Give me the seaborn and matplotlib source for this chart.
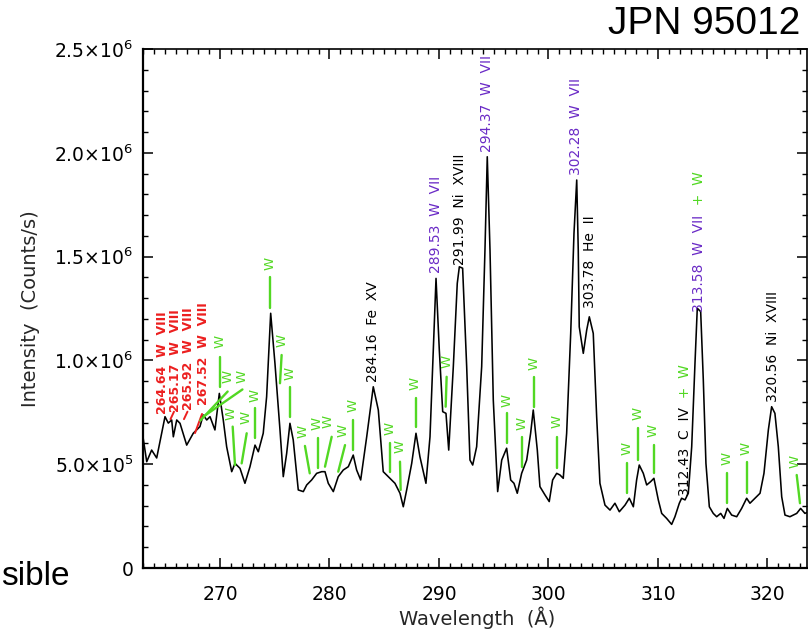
import matplotlib
matplotlib.use("Agg")
import matplotlib.pyplot as plt
import numpy as np
import pandas as pd
import seaborn as sns
from matplotlib.ticker import MultipleLocator, FixedLocator, FixedFormatter

# ---------------- data ----------------
wavelength = [262.97, 263.31, 263.76, 264.22, 264.98, 265.28, 265.59, 265.74, 266.05, 266.35,
              266.96, 267.56, 268.17, 268.47, 268.79, 269.09, 269.54, 269.94, 270.30, 270.61,
              271.07, 271.37, 271.83, 272.28, 272.74, 273.20, 273.50, 273.95, 274.26, 274.63,
              275.02, 275.48, 275.78, 276.09, 276.39, 276.69, 277.15, 277.61, 277.92, 278.37,
              278.83, 279.29, 279.59, 279.89, 280.35, 280.80, 281.26, 281.72, 282.17, 282.48,
              282.85, 283.40, 284.00, 284.46, 284.91, 285.37, 285.98, 286.44, 286.74, 287.05,
              287.51, 287.90, 288.26, 288.81, 289.18, 289.48, 289.73, 290.03, 290.34, 290.64,
              290.89, 291.31, 291.67, 291.86, 292.16, 292.53, 292.83, 293.08, 293.44, 293.90,
              294.20, 294.41, 294.66, 294.96, 295.36, 295.73, 296.18, 296.55, 296.85, 297.15,
              297.55, 298.01, 298.37, 298.61, 298.98, 299.22, 299.68, 300.07, 300.38, 300.75,
              301.05, 301.35, 301.66, 302.03, 302.33, 302.58, 302.72, 302.81, 303.18, 303.49,
              303.73, 304.09, 304.40, 304.70, 305.16, 305.62, 306.07, 306.47, 306.99, 307.38,
              307.75, 308.05, 308.29, 308.66, 308.97, 309.33, 309.63, 310.03, 310.34, 310.79,
              311.25, 311.55, 311.95, 312.16, 312.47, 312.77, 313.08, 313.38, 313.59, 313.90,
              314.14, 314.38, 314.69, 315.05, 315.36, 315.73, 316.03, 316.33, 316.73, 317.19,
              317.64, 318.10, 318.40, 318.86, 319.32, 319.68, 320.08, 320.38, 320.68, 320.99,
              321.30, 321.60, 322.05, 322.67, 323.03, 323.42, 323.70]
intensity_1e6 = [0.631, 0.512, 0.568, 0.530, 0.729, 0.698, 0.713, 0.632, 0.713, 0.697,
                 0.592, 0.649, 0.681, 0.737, 0.713, 0.729, 0.665, 0.841, 0.713, 0.584,
                 0.464, 0.504, 0.480, 0.408, 0.488, 0.592, 0.560, 0.649, 0.825, 1.227,
                 0.986, 0.665, 0.440, 0.552, 0.697, 0.617, 0.376, 0.368, 0.400, 0.424,
                 0.456, 0.464, 0.464, 0.408, 0.368, 0.440, 0.472, 0.488, 0.544, 0.472,
                 0.424, 0.632, 0.873, 0.761, 0.464, 0.440, 0.408, 0.360, 0.295, 0.376,
                 0.504, 0.649, 0.536, 0.408, 0.632, 1.050, 1.395, 1.050, 0.753, 0.745,
                 0.568, 0.970, 1.371, 1.451, 1.444, 0.970, 0.520, 0.496, 0.584, 0.970,
                 1.532, 1.981, 1.532, 0.809, 0.368, 0.520, 0.577, 0.424, 0.408, 0.360,
                 0.456, 0.520, 0.649, 0.761, 0.568, 0.392, 0.352, 0.320, 0.424, 0.456,
                 0.448, 0.432, 0.649, 1.130, 1.612, 1.869, 1.532, 1.162, 1.034, 1.146,
                 1.210, 1.130, 0.729, 0.408, 0.303, 0.279, 0.312, 0.271, 0.303, 0.336,
                 0.295, 0.424, 0.496, 0.456, 0.400, 0.416, 0.432, 0.328, 0.263, 0.239,
                 0.210, 0.247, 0.312, 0.336, 0.328, 0.360, 0.584, 0.986, 1.251, 1.235,
                 0.906, 0.504, 0.295, 0.263, 0.247, 0.263, 0.239, 0.287, 0.255, 0.247,
                 0.287, 0.336, 0.312, 0.336, 0.360, 0.456, 0.665, 0.777, 0.745, 0.584,
                 0.343, 0.255, 0.247, 0.263, 0.287, 0.263, 0.270]

xtick_values = [270, 280, 290, 300, 310, 320]
xtick_labels = ["270", "280", "290", "300", "310", "320"]
ytick_values = [0, 0.5e6, 1.0e6, 1.5e6, 2.0e6, 2.5e6]
ytick_labels = ["0", r"$5.0{\times}10^{5}$", r"$1.0{\times}10^{6}$", r"$1.5{\times}10^{6}$",
                r"$2.0{\times}10^{6}$", r"$2.5{\times}10^{6}$"]

# identified lines
id_text = ["284.16  Fe  XV", "291.99  Ni  XVIII", "303.78  He  II", "312.43  C  IV",
           "320.56  Ni  XVIII", "289.53  W  VII", "294.37  W  VII", "302.28  W  VII",
           "313.58  W  VII"]
id_kind = ["black", "black", "black", "black", "black", "purple", "purple", "purple", "purple"]
id_x = [283.95, 291.92, 303.79, 312.47, 320.53, 289.73, 294.38, 302.51, 313.77]
id_ybot = [0.897, 1.46, 1.251, 0.345, 0.801, 1.419, 2.004, 1.893, 1.235]
id_suffix = ["", "", "", "  +  W", "", "", "", "", "  +  W"]

red_text = ["264.64  W  VIII", "265.17  W  VIII", "265.92  W  VIII", "267.52  W  VIII"]
red_x = [264.75, 265.94, 267.17, 268.45]
red_ybot = [0.742, 0.750, 0.760, 0.785]
red_l_x1 = [265.80, 267.03, 268.36]
red_l_y1 = [0.753, 0.753, 0.742]
red_l_x2 = [265.48, 266.71, 267.72]
red_l_y2 = [0.717, 0.717, 0.650]

# green "W" markers: label position and leader line
w_tx = [270.00, 270.76, 271.98, 270.98, 272.37, 273.20, 274.57, 275.63, 276.39, 277.61,
        278.83, 279.89, 281.26, 282.17, 285.53, 286.44, 287.81, 290.70, 296.18, 297.55,
        298.68, 300.75, 307.14, 308.20, 309.57, 316.27, 318.04, 322.53]
w_ty = [1.090, 0.921, 0.921, 0.745, 0.723, 0.833, 1.469, 1.098, 0.938, 0.657,
        0.697, 0.705, 0.665, 0.785, 0.673, 0.584, 0.890, 0.994, 0.809, 0.697,
        0.986, 0.705, 0.577, 0.745, 0.665, 0.528, 0.577, 0.512]
w_x1 = [270.00, 270.70, 272.05, 271.16, 272.44, 273.20, 274.57, 275.63, 276.39, 277.76,
        278.98, 280.20, 281.42, 282.17, 285.53, 286.44, 287.90, 290.70, 296.18, 297.61,
        298.68, 300.75, 307.14, 308.20, 309.66, 316.33, 318.10, 322.67]
w_y1 = [1.018, 0.850, 0.860, 0.681, 0.649, 0.769, 1.402, 1.026, 0.873, 0.588,
        0.625, 0.632, 0.592, 0.713, 0.601, 0.512, 0.817, 0.921, 0.745, 0.632,
        0.921, 0.632, 0.504, 0.673, 0.592, 0.456, 0.512, 0.448]
w_x2 = [270.00, 268.20, 268.50, 271.37, 271.98, 273.20, 274.57, 275.48, 276.39, 278.20,
        278.98, 279.59, 280.80, 282.17, 285.53, 286.50, 287.90, 290.61, 296.18, 297.61,
        298.68, 300.75, 307.14, 308.20, 309.66, 316.33, 318.10, 322.97]
w_y2 = [0.873, 0.710, 0.730, 0.496, 0.504, 0.625, 1.252, 0.890, 0.729, 0.456,
        0.480, 0.488, 0.464, 0.568, 0.464, 0.376, 0.681, 0.777, 0.601, 0.488,
        0.777, 0.480, 0.360, 0.520, 0.456, 0.312, 0.360, 0.312]

# ---------------- style ----------------
GREEN = "#52d823"
PURPLE = "#6a2ac6"
RED = "#ec1f1f"
colors = {"black": "black", "purple": PURPLE}

sns.set_theme(style="ticks")
plt.rcParams["font.family"] = ["DejaVu Sans"]
plt.rcParams["mathtext.fontset"] = "dejavusans"

fig = plt.figure(figsize=(8.08, 6.31), dpi=100)
ax = fig.add_axes([143 / 808, 1 - 568 / 631, (807 - 143) / 808, (568 - 49) / 631])

df = pd.DataFrame({"Wavelength": wavelength,
                   "Intensity": np.array(intensity_1e6) * 1e6})
sns.lineplot(data=df, x="Wavelength", y="Intensity", ax=ax, color="black",
             linewidth=1.15, estimator=None, sort=False)

ax.set_xlim(262.97, 323.61)
ax.set_ylim(0, 2.5e6)

ax.xaxis.set_major_locator(FixedLocator(xtick_values))
ax.xaxis.set_major_formatter(FixedFormatter(xtick_labels))
ax.xaxis.set_minor_locator(MultipleLocator(1))
ax.yaxis.set_major_locator(FixedLocator(ytick_values))
ax.yaxis.set_major_formatter(FixedFormatter(ytick_labels))
ax.yaxis.set_minor_locator(MultipleLocator(1e5))

ax.tick_params(which="both", direction="in", top=True, right=True, colors="black",
               labelsize=13.5)
ax.tick_params(which="major", length=7, width=1.1)
ax.tick_params(which="minor", length=3.5, width=1.0)
ax.tick_params(axis="x", which="major", pad=12)
ax.tick_params(axis="y", which="major", pad=7)
for s in ax.spines.values():
    s.set_color("black")
ax.spines["left"].set_linewidth(1.6)
ax.spines["bottom"].set_linewidth(1.6)
ax.spines["top"].set_linewidth(1.2)
ax.spines["right"].set_linewidth(1.2)

ax.set_xlabel("Wavelength  (Å)", fontsize=14)
ax.set_ylabel("Intensity  (Counts/s)", fontsize=14)
ax.xaxis.set_label_coords(0.503, -0.074)
ax.yaxis.set_label_coords(-0.155, 0.5)

# identified lines
id_artists = []
for t, k, x, yb in zip(id_text, id_kind, id_x, id_ybot):
    a = ax.text(x, yb * 1e6, t, rotation=90, ha="center", va="bottom",
                color=colors[k], fontsize=10)
    id_artists.append(a)

for t, x, yb in zip(red_text, red_x, red_ybot):
    ax.text(x, yb * 1e6, t, rotation=90, ha="center", va="bottom",
            color=RED, fontsize=9, fontweight="bold")
for x1, y1, x2, y2 in zip(red_l_x1, red_l_y1, red_l_x2, red_l_y2):
    ax.plot([x1, x2], [y1 * 1e6, y2 * 1e6], color=RED, lw=1.4)

for tx, ty, x1, y1, x2, y2 in zip(w_tx, w_ty, w_x1, w_y1, w_x2, w_y2):
    ax.text(tx, ty * 1e6, "W", rotation=90, ha="center", va="center",
            color=GREEN, fontsize=9.5)
    ax.plot([x1, x2], [y1 * 1e6, y2 * 1e6], color=GREEN, lw=1.7)

# green suffixes on top of the composite labels
fig.canvas.draw()
r = fig.canvas.get_renderer()
inv = ax.transData.inverted()
for a, suf, x in zip(id_artists, id_suffix, id_x):
    if not suf:
        continue
    bb = a.get_window_extent(renderer=r)
    ytop = inv.transform((bb.x0, bb.y1))[1]
    ax.text(x, ytop, suf, rotation=90, ha="center", va="bottom",
            color=GREEN, fontsize=10)

# stray slide text
fig.text(800 / 808, 1 - 24 / 631, "JPN 95012", ha="right", va="center",
         fontsize=28, family=["Liberation Sans Narrow", "Liberation Sans"], color="black")
fig.text(1 / 808, 1 - 585 / 631, "sible", ha="left", va="baseline",
         fontsize=24, family=["Liberation Sans"], color="black")

fig.savefig("out.png", dpi=100)
